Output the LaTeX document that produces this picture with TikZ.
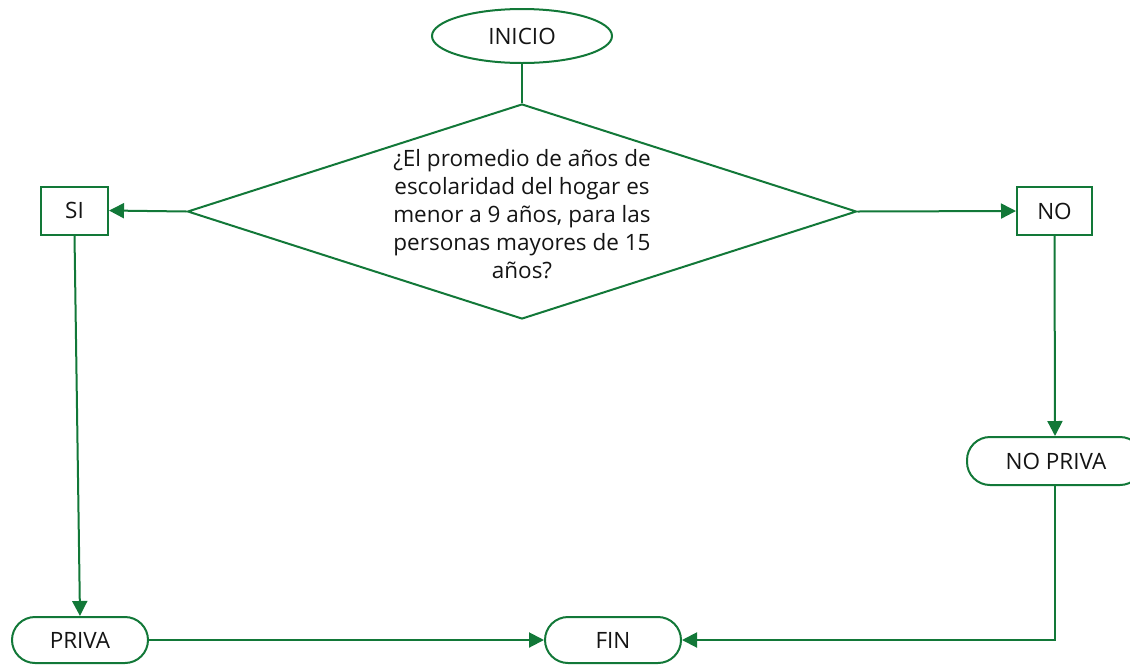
\documentclass[tikz,border=0pt]{standalone}
\usepackage{fontspec}
\setmainfont{Open Sans}
\usetikzlibrary{shapes.geometric,arrows.meta}
\definecolor{fgreen}{RGB}{18,120,56}
\definecolor{txt}{RGB}{20,20,20}
\begin{document}
\begin{tikzpicture}[x=1pt,y=-1pt,
  every node/.style={font=\fontsize{22.5}{28}\selectfont, text=txt},
  conn/.style={draw=fgreen,line width=2pt},
  arr/.style={conn,-{Triangle[length=15pt,width=15pt]}},
  shp/.style={draw=fgreen,line width=2pt,inner sep=0pt},
  box/.style={shp,rectangle},
  term/.style={shp,rectangle,rounded corners=23pt,minimum height=46pt}
]
\clip (0,0) rectangle (1130,665);
\useasboundingbox (0,0) rectangle (1130,665);

\node[shp,ellipse,minimum width=180pt,minimum height=54pt] (ini) at (522,36) {INICIO};
\node[shp,diamond,minimum width=669pt,minimum height=215pt] (dec) at (522,211.5) {};
\node[align=center,inner sep=0pt] (dectext) at (522,214) {¿El promedio de años de\\escolaridad del hogar es\\menor a 9 años, para las\\personas mayores de 15\\años?};
\node[box,minimum width=67pt,minimum height=48pt] (si) at (74.5,210.5) {SI};
\node[box,minimum width=75pt,minimum height=48pt] (no) at (1054.5,211) {NO};
\node[term,minimum width=136pt] (priva) at (80,640) {PRIVA};
\node[term,minimum width=136pt] (fin) at (613,640) {FIN};
\node[term,minimum width=176pt,minimum height=48pt] (nopriva) at (1055,461) {\hspace*{2pt}NO PRIVA};

\draw[conn] (ini.south) -- (dec.north);
\draw[arr] (dec.west) -- (si.east);
\draw[arr] (dec.east) -- (no.west);
\draw[arr] (si.south) -- (priva.north);
\draw[arr] (no.south) -- (nopriva.north);
\draw[arr] (priva.east) -- (fin.west);
\draw[arr] (nopriva.south) |- (fin.east);
\end{tikzpicture}
\end{document}
